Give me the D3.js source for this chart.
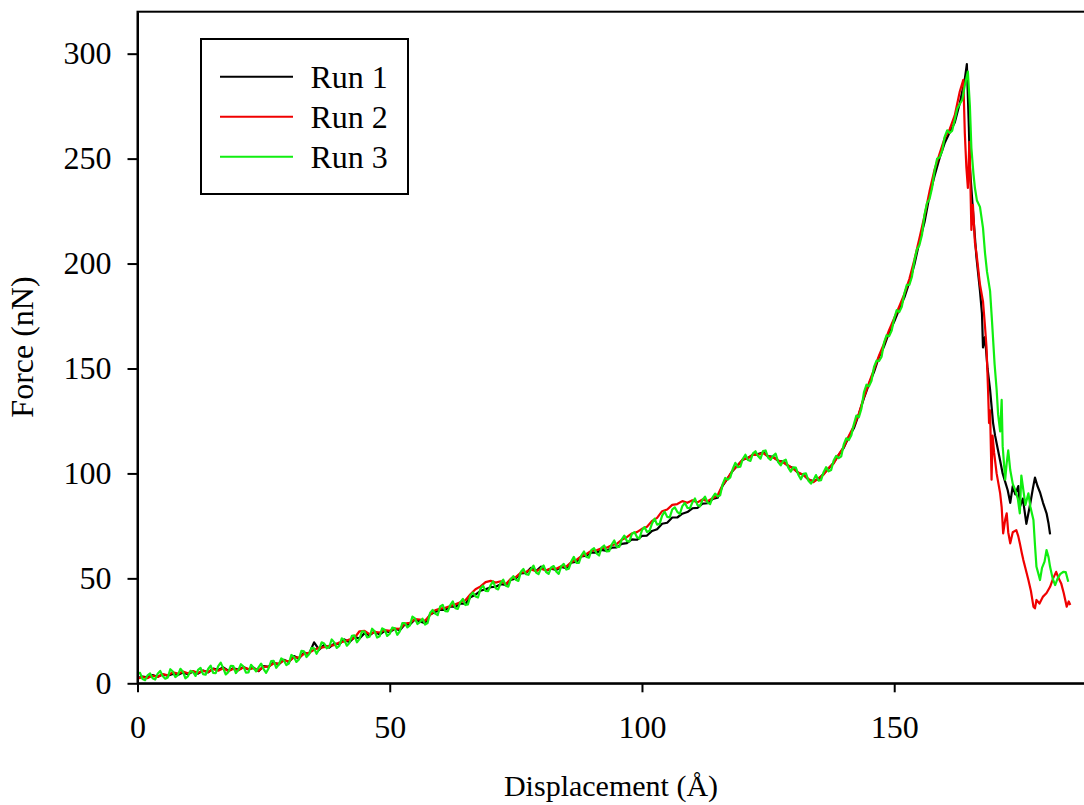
<!DOCTYPE html>
<html>
<head>
<meta charset="utf-8">
<script src="https://cdn.jsdelivr.net/npm/d3@7"></script>
<style>
  html, body { margin: 0; padding: 0; background: #fff; }
  svg { display: block; }
  text { font-family: "Liberation Serif", "Times New Roman", serif; fill: #000; }
</style>
</head>
<body>
<svg id="chart" width="1084" height="805"></svg>
<script>
// ---------- data (displacement Å, force nN) ----------
const seriesNames = ["Run 1", "Run 2", "Run 3"];
const seriesColors = ["#000000", "#f00000", "#10ee10"];
const xTicks = [0, 50, 100, 150];
const yTicks = [0, 50, 100, 150, 200, 250, 300];
const xLabel = "Displacement (Å)";
const yLabel = "Force (nN)";

const run1 = [[0,2.5],[1,3.2],[2,2.8],[3,3.9],[4,3.1],[5,4.2],[6,3.6],[7,4.5],[8,4.0],[9,5.1],[10,4.3],[11,5.6],[12,4.6],[13,6.1],[14,5.2],[15,7.0],[16,6.4],[17,7.6],[18,6.0],[19,7.2],[20,6.5],[21,7.8],[22,6.6],[23,7.5],[24,5.8],[25,8.2],[26,7.9],[27,9.8],[28,9.0],[29,11.2],[30,10.1],[31,13.0],[32,11.8],[33,14.6],[34,14.0],[35,19.5],[36,16.0],[37,18.3],[38,17.0],[39,18.9],[40,18.6],[41,20.9],[42,19.6],[43,22.0],[44,21.4],[45,23.9],[46,22.9],[47,24.6],[48,23.2],[49,25.0],[50,24.4],[51,26.0],[52,25.3],[53,28.1],[54,28.0],[55,30.4],[56,29.5],[57,28.6],[58,32.8],[59,34.0],[60,35.1],[61,35.0],[62,36.6],[63,36.4],[64,38.0],[65,37.9],[66,41.0],[67,42.2],[68,44.1],[69,44.8],[70,45.8],[71,46.0],[72,47.2],[73,46.9],[74,49.3],[75,50.0],[76,52.4],[77,52.6],[78,55.0],[79,53.5],[80,55.6],[81,53.6],[82,54.6],[83,54.0],[84,55.5],[85,54.8],[86,57.5],[87,57.9],[88,60.4],[89,60.8],[90,62.4],[91,62.2],[92,63.6],[93,63.1],[94,64.6],[95,64.8],[96,66.4],[97,66.8],[98,68.6],[99,68.4],[100,70.2],[101,70.4],[102,72.6],[103,73.4],[104,76.0],[105,76.5],[106,79.0],[107,79.0],[108,80.8],[109,81.6],[110,83.4],[111,83.6],[112,85.6],[113,85.8],[114,87.8],[115,88.4],[116,94.2],[117,97.6],[118,101.3],[119,104.0],[120,106.5],[121,107.4],[122,108.9],[123,109.2],[124,110.0],[125,108.2],[126,107.9],[127,106.0],[128,105.6],[129,103.5],[130,102.6],[131,100.1],[132,99.5],[133,97.0],[134,96.4],[135,97.2],[136,99.8],[137,102.4],[138,105.1],[139,108.8],[140,112.2],[141,117.4],[142,121.5],[143,128.3],[144,135.9],[145,142.6],[146,148.4],[147,155.6],[148,160.6],[149,167.2],[150,172.4],[151,178.3],[152,183.8],[153,191.0],[154,199.6],[155,210.4],[156,219.7],[157,232.4],[158,241.8],[159,250.3],[160,257.4],[161,262.6],[162,267.2],[163,276.4],[164,288.0],[164.4,295.0],
[164.8,265],[165.0,246],[165.7,222],[166.3,203],[167.0,187],[167.4,176],[167.6,160],[168.0,165],[168.5,150],[169.0,140],[169.6,124],[170.0,118],[170.5,112],[171.0,106],[171.5,100],[172.0,96],[172.5,92],[173.0,86],[173.5,94],[174.0,90],[174.6,94],[174.9,84],[175.5,88],[176.2,76],[176.6,81],[177.0,86],[177.5,93],[177.9,98],[178.4,94],[178.9,91],[179.5,86],[180.2,81],[180.6,76],[180.9,71]];

const run2 = [[0,2.2],[1,3.0],[2,2.5],[3,3.6],[4,3.0],[5,4.4],[6,3.8],[7,5.2],[8,4.6],[9,5.6],[10,4.8],[11,5.8],[12,5.0],[13,6.0],[14,5.4],[15,6.8],[16,6.0],[17,7.2],[18,5.8],[19,6.9],[20,6.2],[21,7.6],[22,6.8],[23,7.2],[24,6.0],[25,7.8],[26,8.0],[27,9.5],[28,9.4],[29,10.8],[30,10.5],[31,12.4],[32,12.2],[33,14.0],[34,14.5],[35,16.0],[36,16.9],[37,17.2],[38,17.9],[39,18.2],[40,19.4],[41,20.0],[42,20.8],[43,21.6],[44,24.8],[45,25.0],[46,23.4],[47,24.5],[48,24.2],[49,25.4],[50,25.0],[51,26.1],[52,26.0],[53,28.4],[54,28.8],[55,30.6],[56,30.4],[57,29.8],[58,32.6],[59,34.8],[60,35.6],[61,36.0],[62,36.8],[63,37.6],[64,38.6],[65,39.6],[66,42.4],[67,44.8],[68,46.2],[69,48.2],[70,48.8],[71,48.0],[72,48.6],[73,47.2],[74,49.8],[75,50.6],[76,52.8],[77,53.0],[78,54.2],[79,53.4],[80,54.6],[81,53.8],[82,54.8],[83,54.6],[84,55.8],[85,55.6],[86,57.8],[87,58.8],[88,60.6],[89,61.6],[90,63.2],[91,63.4],[92,64.4],[93,64.6],[94,65.8],[95,66.4],[96,68.4],[97,69.6],[98,71.4],[99,72.0],[100,73.6],[101,74.6],[102,77.4],[103,78.8],[104,82.0],[105,82.8],[106,85.0],[107,85.4],[108,86.8],[109,86.0],[110,87.2],[111,86.2],[112,87.6],[113,86.8],[114,88.2],[115,89.6],[116,94.6],[117,97.8],[118,101.6],[119,103.8],[120,106.8],[121,107.2],[122,109.0],[123,108.8],[124,109.8],[125,108.0],[126,107.6],[127,106.2],[128,105.2],[129,103.8],[130,102.2],[131,100.4],[132,99.2],[133,97.4],[134,95.8],[135,97.8],[136,99.4],[137,102.6],[138,104.8],[139,109.0],[140,112.6],[141,117.8],[142,122.6],[143,128.6],[144,136.4],[145,143.2],[146,149.6],[147,156.2],[148,162.0],[149,168.4],[150,174.0],[151,179.6],[152,185.4],[153,192.6],[154,201.8],[155,212.0],[156,222.6],[157,234.4],[158,244.8],[159,252.4],[160,259.8],[161,264.0],[162,270.6],[163,282.0],[163.7,287.5],
[164.0,262],[164.3,246],[164.6,236],[164.9,258],[165.0,250],[165.3,216],[165.6,228],[166.0,210],[166.3,205],[167.0,190],[167.6,182],[168.0,170],[168.3,160],[168.6,140],[168.8,124],[169.0,130],[169.3,97],[169.5,118],[169.8,110],[170.3,100],[171.0,90.5],[171.3,84],[171.6,71.4],[172.0,78],[172.3,81],[172.6,72],[173.0,66.7],[173.5,72],[174.2,73],[174.6,70],[174.9,66.7],[175.3,62],[175.6,58.7],[176.1,54],[176.6,49.2],[177.1,44],[177.6,36.5],[177.9,35.7],[178.2,39.7],[178.8,38],[179.5,41.3],[180.2,43],[180.9,46],[181.5,50],[182.1,53.1],[182.6,50],[183.1,47.6],[183.6,43],[184.2,36.5],[184.6,39],[184.9,37.3]];

const run3 = [[0,4.5],[0.5,5.0],[1,2.0],[1.5,1.5],[2,3.8],[2.5,4.7],[3,2.4],[3.5,1.8],[4,4.6],[4.5,5.9],[5,3.5],[5.5,2.2],[6,2.8],[6.5,6.7],[7,5.6],[7.5,2.95],[8,3.9],[8.5,6.9],[9,5.5],[9.5,2.4],[10,3.3],[10.5,5.95],[11,5.4],[11.5,3.5],[12,6.4],[12.5,7.3],[13,4.4],[13.5,4.1],[14,6.8],[14.5,8.4],[15,5.0],[15.5,4.8],[16,8.2],[16.5,9.85],[17,7.1],[17.5,4.2],[18,5.3],[18.5,8.35],[19,8.2],[19.5,4.9],[20,6.4],[20.5,9.1],[21,8.0],[21.5,5.1],[22,5.2],[22.5,8.8],[23,7.4],[23.5,5.7],[24,7.6],[24.5,9.4],[25,6.8],[25.5,5.0],[26,7.2],[26.5,10.55],[27,10.7],[27.5,7.4],[28,8.9],[28.5,11.85],[29,11.0],[29.5,8.7],[30,9.4],[30.5,13.5],[31,12.6],[31.5,10.2],[32,11.4],[32.5,15.5],[33,15.2],[33.5,12.5],[34,13.8],[34.5,16.85],[35,16.7],[35.5,14.05],[36,16.2],[36.5,19.5],[37,19.0],[37.5,16.65],[38,17.3],[38.5,20.9],[39,19.5],[39.5,16.85],[40,17.8],[40.5,21.4],[41,20.6],[41.5,17.9],[42,19.2],[42.5,22.6],[43,22.8],[43.5,19.55],[44,21.1],[44.5,24.75],[45,24.6],[45.5,21.9],[46,22.2],[46.5,26.0],[47,24.8],[47.5,21.8],[48,22.4],[48.5,26.15],[49,25.5],[49.5,22.55],[50,23.6],[50.5,26.5],[51,26.2],[51.5,23.1],[52,24.8],[52.5,28.65],[53,28.7],[53.5,26.65],[54,27.6],[54.5,31.75],[55,30.9],[55.5,28.25],[56,29.2],[56.5,30.8],[57,28.0],[57.5,28.75],[58,33.5],[58.5,34.95],[59,33.2],[59.5,32.5],[60,36.6],[60.5,37.4],[61,34.4],[61.5,34.3],[62,37.2],[62.5,39.0],[63,35.8],[63.5,35.45],[64,38.7],[64.5,40.2],[65,37.3],[65.5,37.6],[66,41.9],[66.5,43.25],[67,41.4],[67.5,40.9],[68,45.2],[68.5,46.5],[69,44.0],[69.5,43.9],[70,46.8],[70.5,48.55],[71,45.3],[71.5,44.75],[72,47.8],[72.5,49.35],[73,46.5],[73.5,46.05],[74,49.6],[74.5,51.05],[75,49.3],[75.5,48.8],[76,53.1],[76.5,54.45],[77,52.0],[77.5,51.7],[78,54.4],[78.5,56.1],[79,52.8],[79.5,52.05],[80,54.9],[80.5,56.15],[81,53.0],[81.5,52.1],[82,55.2],[82.5,55.85],[83,53.3],[83.5,52.15],[84,55.8],[84.5,56.9],[85,54.2],[85.5,54.65],[86,58.1],[86.5,60.25],[87,57.4],[87.5,57.4],[88,61.0],[88.5,62.8],[89,60.2],[89.5,59.9],[90,63.6],[90.5,64.35],[91,61.9],[91.5,60.9],[92,64.7],[92.5,65.65],[93,62.8],[93.5,62.95],[94,66.1],[94.5,68.05],[95,65.0],[95.5,65.0],[96,68.6],[96.5,70.4],[97,67.8],[97.5,67.5],[98,71.2],[98.5,72.05],[99,69.7],[99.5,68.95],[100,73.0],[100.5,74.45],[101,72.1],[101.5,72.65],[102,76.2],[102.5,78.4],[103,75.6],[103.5,75.95],[104,79.9],[104.5,81.8],[105,79.3],[105.5,79.05],[106,82.8],[106.5,83.85],[107,81.7],[107.5,80.65],[108,84.4],[108.5,85.9],[109,83.6],[109.5,83.4],[110,86.2],[110.5,88.05],[111,84.9],[111.5,84.35],[112,87.4],[112.5,88.95],[113,86.1],[113.5,85.35],[114,88.6],[114.5,90.4],[115,89.0],[115.5,89.55],[116,94.9],[116.5,97.85],[117,97.0],[117.5,98.05],[118,102.1],[118.5,105.05],[119,103.0],[119.5,103.2],[120,107.0],[120.5,108.9],[121,106.4],[121.5,106.0],[122,109.6],[122.5,110.55],[123,108.3],[123.5,107.05],[124,110.6],[124.5,110.95],[125,107.5],[125.5,106.45],[126,108.4],[126.5,109.4],[127,105.4],[127.5,103.85],[128,105.9],[128.5,106.55],[129,102.8],[129.5,100.85],[130,102.9],[130.5,102.75],[131,99.4],[131.5,97.2],[132,99.8],[132.5,100.05],[133,96.5],[133.5,95.15],[134,96.8],[134.5,99.2],[135,96.6],[135.5,96.8],[136,100.6],[136.5,103.0],[137,101.0],[137.5,101.6],[138,106.2],[138.5,108.35],[139,107.3],[139.5,108.15],[140,113.8],[140.5,116.75],[141,115.9],[141.5,118.15],[142,123.4],[142.5,127.6],[143,126.8],[143.5,130.9],[144,138.6],[144.5,142.25],[145,141.5],[145.5,144.1],[146,150.7],[146.5,153.75],[147,153.6],[147.5,155.65],[148,162.5],[148.5,165.85],[149,165.4],[149.5,168.1],[150,173.8],[150.5,177.85],[151,176.9],[151.5,179.45],[152,185.6],[152.5,189.9],[153,189.8],[153.5,193.6],[154,201.4],[154.5,206.7],[155,208.8],[155.5,213.6],[156,223.2],[156.5,228.85],[157,230.7],[157.5,235.95],[158,244.2],[158.5,249.9],[159,250.6],[159.5,253.65],[160,260.3],[160.5,263.45],[161,262.2],[161.5,263.35],[162,268.5],[162.5,273.85],[163,276.0],[163.5,278.1],[164,285.0],[164.6,291.5],
[165.0,275],[165.3,255],[165.7,243],[166.0,236],[166.4,230],[167.0,227],[167.6,217],[168.0,205],[168.4,196],[169.0,187],[169.4,172],[169.9,152],[170.3,140],[170.6,128],[171.0,120],[171.3,135],[171.5,113],[172.0,97],[172.3,105],[172.6,111],[173.0,101.6],[173.5,95],[174.0,92],[174.5,88],[174.9,81],[175.2,99],[175.6,92],[176.0,85],[176.6,90.5],[177.0,84],[177.6,77.8],[177.9,66],[178.2,55.5],[178.6,52],[178.9,49.2],[179.3,55],[179.8,58],[180.2,63.5],[180.6,60],[180.9,55.5],[181.4,50],[181.9,46.8],[182.4,50],[182.9,52],[183.5,53.1],[184.0,53],[184.5,48.4]];

const runs = [run1, run2, run3];

// ---------- layout ----------
const svg = d3.select("#chart");
const xMin = 0, xMax = 190, yMin = 0, yMax = 320;
const plotLeft = 137.5, plotRight = 1096, plotTop = 11.7, plotBottom = 683.3;

const x = d3.scaleLinear().domain([xMin, xMax]).range([plotLeft, plotRight]);
const y = d3.scaleLinear().domain([yMin, yMax]).range([plotBottom, plotTop]);

// frame
svg.append("rect")
  .attr("x", x(xMin)).attr("y", y(yMax))
  .attr("width", x(xMax) - x(xMin)).attr("height", y(yMin) - y(yMax))
  .attr("fill", "none").attr("stroke", "#000").attr("stroke-width", 2);

// lines
const line = d3.line().x(d => x(d[0])).y(d => y(d[1]));
const gLines = svg.append("g");
runs.forEach((r, i) => {
  gLines.append("path")
    .datum(r)
    .attr("d", line)
    .attr("fill", "none")
    .attr("stroke", seriesColors[i])
    .attr("stroke-width", 2.2)
    .attr("stroke-linejoin", "round");
});

// axes
const xAxis = d3.axisBottom(x).tickValues(xTicks).tickFormat(d3.format("d"))
  .tickSizeInner(9).tickSizeOuter(0).tickPadding(23);
const yAxis = d3.axisLeft(y).tickValues(yTicks).tickFormat(d3.format("d"))
  .tickSizeInner(10).tickSizeOuter(0).tickPadding(16);

const gx = svg.append("g").attr("transform", `translate(0,${plotBottom})`).call(xAxis);
const gy = svg.append("g").attr("transform", `translate(${plotLeft},0)`).call(yAxis);
[gx, gy].forEach(g => {
  g.selectAll("path.domain").attr("stroke", "#000").attr("stroke-width", 2);
  g.selectAll(".tick line").attr("stroke", "#000").attr("stroke-width", 2);
  g.selectAll(".tick text")
    .style("font-family", '"Liberation Serif", "Times New Roman", serif')
    .style("font-size", "32px").attr("fill", "#000");
});

// axis titles
svg.append("text")
  .attr("x", 611).attr("y", 796)
  .attr("text-anchor", "middle")
  .style("font-size", "30px")
  .text(xLabel);

svg.append("text")
  .attr("transform", `translate(33,${347}) rotate(-90)`)
  .attr("text-anchor", "middle")
  .style("font-size", "32px")
  .text(yLabel);

// legend
const lg = svg.append("g");
lg.append("rect")
  .attr("x", 201).attr("y", 39).attr("width", 207).attr("height", 155)
  .attr("fill", "#fff").attr("stroke", "#000").attr("stroke-width", 2);
seriesNames.forEach((name, i) => {
  const ly = 76.7 + i * 40;
  lg.append("line")
    .attr("x1", 220).attr("x2", 293).attr("y1", ly).attr("y2", ly)
    .attr("stroke", seriesColors[i]).attr("stroke-width", 2);
  lg.append("text")
    .attr("x", 310.5).attr("y", ly + 11.5)
    .style("font-size", "32px")
    .text(name);
});
</script>
</body>
</html>
